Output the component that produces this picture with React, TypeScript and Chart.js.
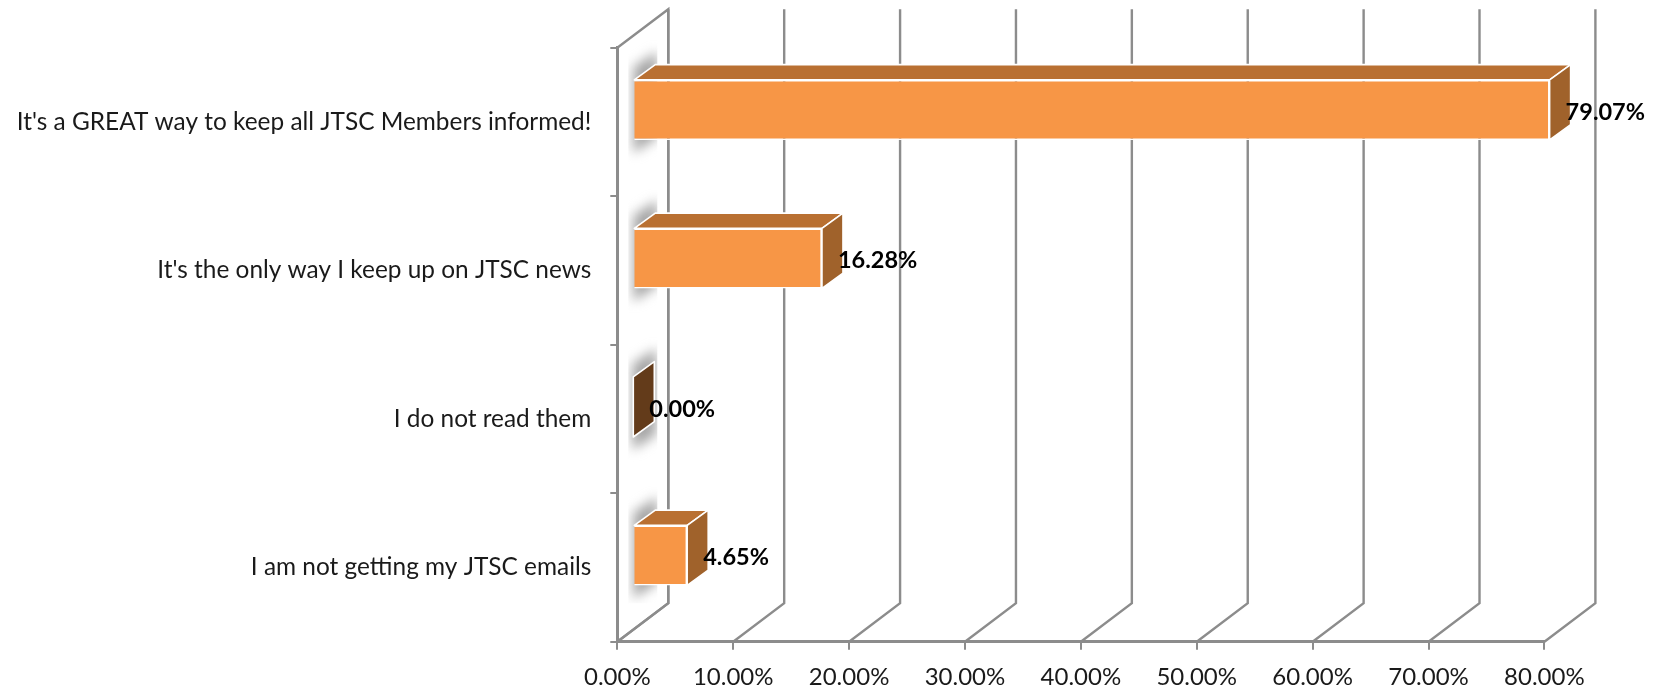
import React, { useEffect, useRef } from "react";
import { Chart, registerables } from "chart.js";

Chart.register(...registerables);

const categories = [
  "It's a GREAT way to keep all JTSC Members informed!",
  "It's the only way I keep up on JTSC news",
  "I do not read them",
  "I am not getting my JTSC emails",
];
const values = [79.07, 16.28, 0, 4.65];
const xTicks = [0, 10, 20, 30, 40, 50, 60, 70, 80];

const WALL_DX = 51;
const WALL_DY = -38.5;
const BAR_SHIFT_X = 16;
const BAR_SHIFT_Y = -12;
const BAR_DX = 21;
const BAR_DY = -15.3;
const AXIS = "#8c8c8c";
const FRONT = "#f79646";
const TOP = "#b97032";
const SIDE = "#a0622b";
const ZERO = "#633b1a";
const FONT = "Lato, Carlito, sans-serif";

const poly = (ctx: CanvasRenderingContext2D, pts: number[][]) => {
  ctx.beginPath();
  pts.forEach((p, i) => (i ? ctx.lineTo(p[0], p[1]) : ctx.moveTo(p[0], p[1])));
  ctx.closePath();
};

const walls = {
  id: "walls",
  beforeDatasetsDraw(chart: any) {
    const { ctx, chartArea: a, scales } = chart;
    ctx.save();
    ctx.strokeStyle = AXIS;
    ctx.lineWidth = 2.4;
    ctx.lineJoin = "miter";
    ctx.beginPath();
    ctx.moveTo(a.left, a.top);
    ctx.lineTo(a.left + WALL_DX, a.top + WALL_DY);
    ctx.lineTo(a.left + WALL_DX, a.bottom + WALL_DY);
    ctx.lineTo(a.left, a.bottom);
    ctx.stroke();
    xTicks.forEach((t) => {
      const x = scales.x.getPixelForValue(t);
      ctx.beginPath();
      ctx.moveTo(x, a.bottom);
      ctx.lineTo(x + WALL_DX, a.bottom + WALL_DY);
      ctx.lineTo(x + WALL_DX, a.top + WALL_DY);
      ctx.stroke();
    });
    ctx.restore();
    const meta = chart.getDatasetMeta(0);
    ctx.save();
    ctx.beginPath();
    ctx.rect(a.left + 11, a.top + WALL_DY, 29, a.bottom - a.top);
    ctx.clip();
    ctx.filter = "blur(6px)";
    ctx.fillStyle = "#a6a6a6";
    meta.data.forEach((el: any) => {
      const x = el.base + BAR_SHIFT_X;
      const top = el.y - el.height / 2 + BAR_SHIFT_Y;
      const bot = el.y + el.height / 2 + BAR_SHIFT_Y;
      poly(ctx, [
        [x - 1, top - 13],
        [x + BAR_DX + 2, top + BAR_DY - 13],
        [x + BAR_DX + 2, bot + BAR_DY + 13],
        [x - 1, bot + 13],
      ]);
      ctx.fill();
    });
    ctx.restore();
  },
};

const bar3d = {
  id: "bar3d",
  beforeDatasetDraw(chart: any) {
    const { ctx } = chart;
    const meta = chart.getDatasetMeta(0);
    ctx.save();
    ctx.translate(BAR_SHIFT_X, BAR_SHIFT_Y);
    ctx.strokeStyle = "#ffffff";
    ctx.lineWidth = 1.6;
    ctx.lineJoin = "round";
    meta.data.forEach((el: any) => {
      const x0 = el.base;
      const x1 = el.x;
      const top = el.y - el.height / 2;
      const bot = el.y + el.height / 2;
      if (x1 - x0 < 1) {
        poly(ctx, [
          [x0, top],
          [x0 + BAR_DX, top + BAR_DY],
          [x0 + BAR_DX, bot + BAR_DY],
          [x0, bot],
        ]);
        ctx.fillStyle = ZERO;
        ctx.fill();
        ctx.stroke();
        return;
      }
      poly(ctx, [
        [x0, top],
        [x0 + BAR_DX, top + BAR_DY],
        [x1 + BAR_DX, top + BAR_DY],
        [x1, top],
      ]);
      ctx.fillStyle = TOP;
      ctx.fill();
      ctx.stroke();
      poly(ctx, [
        [x1, top],
        [x1 + BAR_DX, top + BAR_DY],
        [x1 + BAR_DX, bot + BAR_DY],
        [x1, bot],
      ]);
      ctx.fillStyle = SIDE;
      ctx.fill();
      ctx.stroke();
    });
  },
  afterDatasetDraw(chart: any) {
    chart.ctx.restore();
  },
  afterDatasetsDraw(chart: any) {
    const { ctx } = chart;
    const meta = chart.getDatasetMeta(0);
    ctx.save();
    ctx.fillStyle = "#000000";
    ctx.font = `bold 23.5px ${FONT}`;
    ctx.textAlign = "left";
    ctx.textBaseline = "middle";
    meta.data.forEach((el: any, i: number) => {
      ctx.fillText(values[i].toFixed(2) + "%", el.x + BAR_SHIFT_X + 16, el.y + BAR_SHIFT_Y + 2);
    });
    ctx.restore();
  },
};

export default function App() {
  const ref = useRef<HTMLCanvasElement | null>(null);
  useEffect(() => {
    const chart = new Chart(ref.current as HTMLCanvasElement, {
      type: "bar",
      data: {
        labels: categories,
        datasets: [
          {
            data: values,
            backgroundColor: (c: any) => (c.raw === 0 ? "rgba(0,0,0,0)" : FRONT),
            borderColor: (c: any) => (c.raw === 0 ? "rgba(0,0,0,0)" : "#ffffff"),
            borderWidth: 1.6,
            barPercentage: 0.405,
            categoryPercentage: 1,
          },
        ],
      },
      options: {
        indexAxis: "y",
        animation: false,
        responsive: false,
        devicePixelRatio: 1,
        layout: { padding: { top: 47.7, right: 1659 - 1544.4, bottom: 0, left: 0 } },
        plugins: { legend: { display: false }, tooltip: { enabled: false } },
        scales: {
          x: {
            min: 0,
            max: 80,
            afterBuildTicks: (s: any) => {
              s.ticks = xTicks.map((v) => ({ value: v }));
            },
            afterFit: (s: any) => {
              s.height = 48.3;
            },
            ticks: {
              maxRotation: 0,
              autoSkip: false,
              padding: 13,
              color: "#1a1a1a",
              font: { family: FONT, size: 24 },
              callback: (v: any) => Number(v).toFixed(2) + "%",
            },
            grid: { drawOnChartArea: false, drawTicks: true, tickLength: 8, color: AXIS, lineWidth: 2 },
            border: { color: AXIS, width: 3 },
          },
          y: {
            afterFit: (s: any) => {
              s.width = 617.3;
            },
            ticks: {
              padding: 19,
              color: "#1a1a1a",
              font: { family: FONT, size: 24.4 },
            },
            grid: { drawOnChartArea: false, drawTicks: true, tickLength: 7, offset: true, color: AXIS, lineWidth: 2 },
            border: { color: AXIS, width: 3 },
          },
        },
      },
      plugins: [walls, bar3d],
    } as any);
    return () => chart.destroy();
  }, []);
  return (
    <div style={{ position: "absolute", left: 0, top: 0, width: 1659, height: 690, background: "#fff" }}>
      <canvas ref={ref} width={1659} height={690} style={{ display: "block", width: 1659, height: 690 }} />
    </div>
  );
}
